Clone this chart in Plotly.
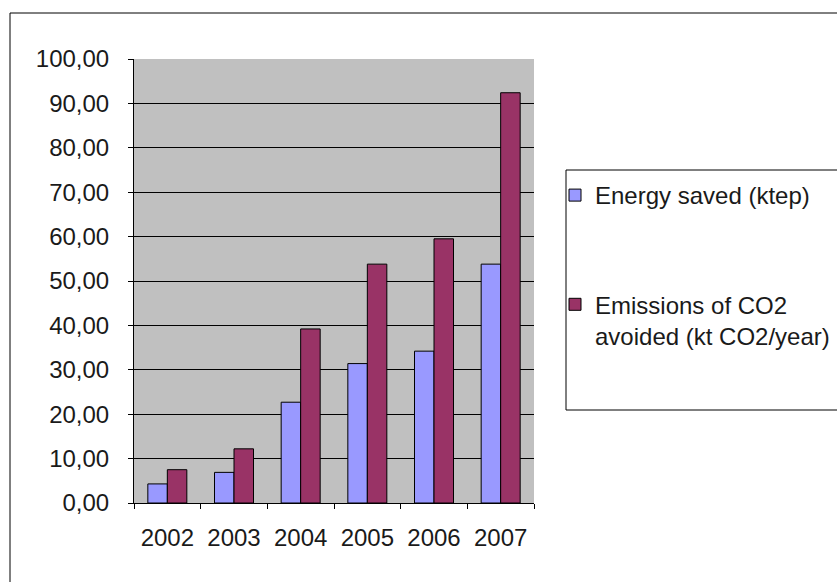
import plotly.graph_objects as go

years = ["2002", "2003", "2004", "2005", "2006", "2007"]
energy_saved = [4.3, 6.9, 22.7, 31.4, 34.2, 53.8]
co2_avoided = [7.5, 12.2, 39.2, 53.8, 59.5, 92.4]
series_names = ["Energy saved (ktep)", "Emissions of CO2<br>avoided (kt CO2/year)"]
series_colors = ["#9999FF", "#993366"]
y_ticks = [0, 10, 20, 30, 40, 50, 60, 70, 80, 90, 100]

FONT = "Liberation Sans, Arial, sans-serif"
TXT = "#1a1a1a"
FS = 24

fig = go.Figure()
for i, (vals, name, col) in enumerate(zip([energy_saved, co2_avoided], series_names, series_colors)):
    fig.add_trace(go.Bar(
        x=years, y=vals, name=name, legendgroup=f"g{i}",
        marker=dict(color=col, line=dict(color="#000000", width=1)),
    ))

W, H = 837, 582
L, R, T, B = 134, W - 534, 59, H - 503
pw, ph = 534 - 134, 503 - 59

def px(x):
    return (x - L) / pw

def py(y):
    return (H - B - y) / ph

fig.update_layout(
    width=W, height=H,
    margin=dict(l=L, r=R, t=T, b=B, pad=0, autoexpand=False),
    paper_bgcolor="white",
    plot_bgcolor="#C0C0C0",
    barmode="group", bargap=0.415, bargroupgap=0,
    separators=",.",
    font=dict(family=FONT, size=FS, color=TXT),
    showlegend=True,
    legend=dict(
        x=px(555), y=py(173), xanchor="left", yanchor="top",
        bgcolor="rgba(0,0,0,0)", borderwidth=0,
        font=dict(family=FONT, size=FS, color=TXT),
        tracegroupgap=75, valign="top", itemwidth=30,
    ),
    xaxis=dict(
        type="category", tickson="boundaries",
        showline=True, linecolor="#000000", linewidth=1,
        ticks="outside", ticklen=5, tickcolor="#000000",
        showgrid=False, ticklabelstandoff=13,
        tickfont=dict(family=FONT, size=FS, color=TXT),
    ),
    yaxis=dict(
        range=[0, 100], tickvals=y_ticks, tickformat=".2f",
        showline=True, linecolor="#000000", linewidth=1,
        ticks="outside", ticklen=5, tickcolor="#000000",
        showgrid=True, gridcolor="#000000", gridwidth=1,
        zeroline=False, ticklabelstandoff=14,
        tickfont=dict(family=FONT, size=FS, color=TXT),
    ),
    shapes=[
        dict(type="rect", xref="paper", yref="paper",
             x0=px(10), x1=px(850), y0=py(13), y1=py(600),
             line=dict(color="#000000", width=1), fillcolor="rgba(0,0,0,0)", layer="below"),
        dict(type="rect", xref="paper", yref="paper",
             x0=px(566), x1=px(850), y0=py(410), y1=py(170),
             line=dict(color="#000000", width=1), fillcolor="rgba(0,0,0,0)", layer="below"),
    ],
)

fig.write_html("out.html")
